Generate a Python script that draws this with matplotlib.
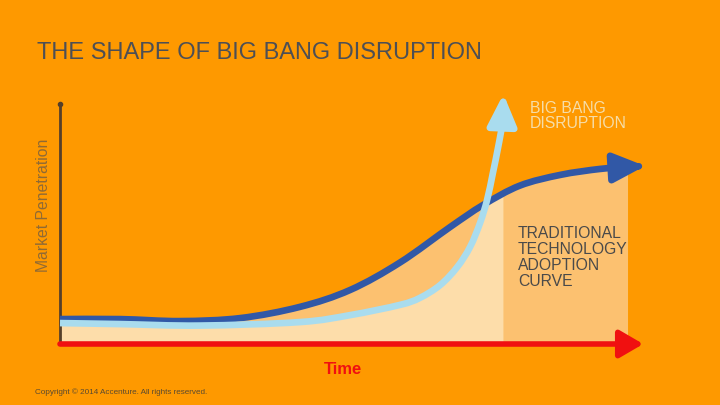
import matplotlib
matplotlib.use("Agg")
from matplotlib import pyplot as plt
from matplotlib.path import Path
from matplotlib.patches import PathPatch, FancyArrowPatch
import numpy as np

plt.rcParams["font.family"] = ["Liberation Sans", "DejaVu Sans"]

# traditional adoption curve (time 0-100, penetration 0-100), last point = arrow tip
trad_time = np.array([0, 10.3, 20.5, 30.8, 41.0, 49.6, 58.1, 66.7, 72.3, 78.6, 85.5, 92.3, 97.1, 100.0])
trad_pen = np.array([10.0, 10.0, 9.2, 10.4, 14.9, 21.7, 32.7, 47.0, 55.8, 63.6, 67.9, 70.3, 71.1, 71.5])

# big bang disruption curve, last point = arrow tip
bang_time = np.array([0, 10.3, 23.9, 41.0, 49.6, 58.1, 61.5, 65.0, 67.9, 70.1, 71.8, 73.0,
                      74.0, 74.9, 75.6, 75.8])
bang_pen = np.array([8.4, 8.0, 7.4, 8.8, 11.6, 15.7, 18.5, 23.7, 30.9, 39.0, 48.6, 57.8,
                     68.7, 79.1, 88.8, 100.4])

shade_end = 97.1
y_axis_top = 96.4
x_axis_end = 99.7

title = "THE SHAPE OF BIG BANG DISRUPTION"
y_label = "Market Penetration"
x_label = "Time"
bang_label = "BIG BANG\nDISRUPTION"
trad_label = "TRADITIONAL\nTECHNOLOGY\nADOPTION\nCURVE"
copyright_note = "Copyright \u00a9 2014 Accenture. All rights reserved."

BG = "#FE9900"
DARK_BLUE = "#3158A6"
LIGHT_BLUE = "#A9DCEE"
PEACH = "#FDDDAA"
LIGHT_ORANGE = "#FCC170"
RED = "#F01010"
GREY = "#4D4F55"
AXIS = "#553F2A"


def smooth_curve(xs, ys):
    # catmull-rom through the read points, drawn as bezier segments
    pts = np.column_stack([xs, ys])
    n = len(pts)
    verts = [pts[0]]
    codes = [Path.MOVETO]
    for i in range(n - 1):
        p0 = pts[max(i - 1, 0)]
        p1 = pts[i]
        p2 = pts[i + 1]
        p3 = pts[min(i + 2, n - 1)]
        verts += [p1 + (p2 - p0) / 6, p2 - (p3 - p1) / 6, p2]
        codes += [Path.CURVE4] * 3
    return verts, codes


def area_path(xs, ys):
    verts, codes = smooth_curve(xs, ys)
    verts += [(xs[-1], 0), (xs[0], 0), (xs[0], 0)]
    codes += [Path.LINETO, Path.LINETO, Path.CLOSEPOLY]
    return Path(verts, codes)


def curve_arrow(ax, xs, ys, color, head, zorder):
    verts, codes = smooth_curve(xs, ys)
    arrow = FancyArrowPatch(path=Path(verts, codes),
                            arrowstyle="-|>,head_length=%.2f,head_width=%.2f" % head,
                            mutation_scale=20, color=color, lw=4.8,
                            capstyle="butt", joinstyle="round",
                            zorder=zorder, clip_on=False)
    ax.add_patch(arrow)


def main():
    fig = plt.figure(figsize=(7.2, 4.05), dpi=100, facecolor=BG)
    ax = fig.add_axes([60 / 720, 1 - 344 / 405, 585 / 720, 249 / 405])
    ax.set_xlim(0, 100)
    ax.set_ylim(0, 100)
    ax.axis("off")

    # shaded areas
    mask = trad_time <= shade_end
    under_trad = PathPatch(area_path(trad_time[mask], trad_pen[mask]), fc=LIGHT_ORANGE, lw=0, zorder=1)
    ax.add_patch(under_trad)
    peach = PathPatch(area_path(bang_time, bang_pen), fc=PEACH, lw=0, zorder=2)
    ax.add_patch(peach)
    peach.set_clip_path(under_trad)

    # axes
    ax.plot([0, 0], [0, y_axis_top], color=AXIS, lw=2, zorder=3, clip_on=False)
    ax.plot([0], [y_axis_top], "o", color=AXIS, ms=3, zorder=3, clip_on=False)
    ax.annotate("", xy=(x_axis_end, 0), xytext=(0, 0),
                arrowprops=dict(arrowstyle="-|>,head_length=0.72,head_width=0.42", color=RED,
                                lw=4, shrinkA=0, shrinkB=0, mutation_scale=20),
                zorder=4, annotation_clip=False)

    # curves
    curve_arrow(ax, trad_time, trad_pen, DARK_BLUE, (0.95, 0.44), 5)
    curve_arrow(ax, bang_time, bang_pen, LIGHT_BLUE, (0.95, 0.44), 6)

    # texts
    fig.text(37 / 720, 1 - 53 / 405, title, fontsize=17, color=GREY, va="center", ha="left")
    fig.text(44 / 720, 1 - 205 / 405, y_label, fontsize=11.3, color="#8F6A35", rotation=90,
             va="center", ha="center")
    fig.text(343 / 720, 1 - 370 / 405, x_label, fontsize=12, fontweight="bold", color=RED,
             va="center", ha="center")
    fig.text(530 / 720, 1 - 101 / 405, bang_label, fontsize=11.3, color="#F6DDA8", va="top", ha="left",
             linespacing=1.0)
    fig.text(518 / 720, 1 - 226 / 405, trad_label, fontsize=11.3, color="#4A4A4A", va="top", ha="left",
             linespacing=1.08)
    fig.text(35 / 720, 1 - 392 / 405, copyright_note, fontsize=5.9, color="#5A4A30", va="center", ha="left")

    fig.savefig("out.png", dpi=100, facecolor=BG)


if __name__ == "__main__":
    main()
